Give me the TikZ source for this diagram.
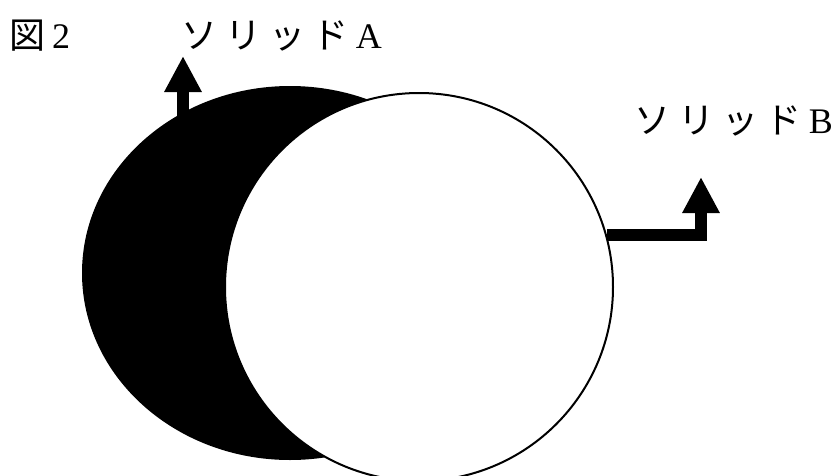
\documentclass[tikz,border=0pt]{standalone}
\usepackage{fontspec}
\setmainfont{Liberation Serif}
\newfontfamily\jpfont[LetterSpace=22]{Noto Sans CJK JP}
\newcommand\jptext[1]{{\jpfont #1}\kern7pt}
\usetikzlibrary{shapes.geometric,arrows.meta}

\tikzset{
  lbl/.style={anchor=base west,inner sep=0pt,font=\fontsize{36}{40}\selectfont},
  fatarrow/.style={line width=12pt,-{Triangle[length=36pt,width=35pt]}}
}

\begin{document}
\begin{tikzpicture}[x=1pt,y=-1pt]
\useasboundingbox (0,0) rectangle (839,475);
\clip (0,0) rectangle (839,475);

\node[ellipse,fill=black,inner sep=0pt,minimum width=416pt,minimum height=374pt] (solA) at (290,273) {};
\coordinate (footA) at (183,125);
\draw[fatarrow] (footA) -- (183,56);

\node[circle,draw,line width=2pt,fill=white,inner sep=0pt,minimum size=388pt] (solB) at (419,287) {};
\coordinate (bendB) at (701,235);
\draw[fatarrow] (solB.15 |- bendB) -- (bendB) -- (701,177);

\node[lbl] (fig) at (9,48) {\jptext{図}2};
\foreach \nm/\x/\y/\lab in {labA/181/48/A, labB/634/133/B}
{
  \node[lbl] (\nm) at (\x,\y) {\jptext{ソリッド}\lab};
}
\end{tikzpicture}
\end{document}
